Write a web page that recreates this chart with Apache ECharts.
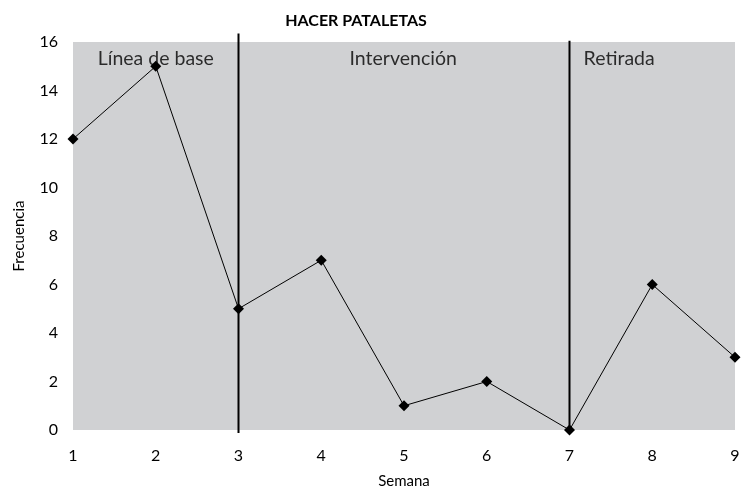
<!DOCTYPE html>
<html><head><meta charset="utf-8">
<script src="https://cdn.jsdelivr.net/npm/echarts@6/dist/echarts.min.js"></script>
<style>html,body{margin:0;padding:0;background:#fff}#c{width:741px;height:488px}</style>
</head><body><div id="c"></div>
<script>
const weeks = [1,2,3,4,5,6,7,8,9];
const frecuencia = [12,15,5,7,1,2,0,6,3];
const phaseBreaks = [3,7];
const phaseNames = ['Línea de base','Intervención','Retirada'];
const phaseLabelX = [2.0, 4.99, 7.6];
const phaseLabelY = 15.3;
const FONT = 'Lato';

const chart = echarts.init(document.getElementById('c'));
const breakSeries = phaseBreaks.map((b,i)=>({
  type:'line', data:[[b,-0.12],[b, i===0?16.35:16.05]], symbol:'none', clip:false, silent:true,
  lineStyle:{color:'#000',width:2}, z:3
}));
chart.setOption({
  animation:false,
  title:{text:'HACER PATALETAS',left:351,top:8,textAlign:'center',
    textStyle:{fontFamily:FONT,fontSize:16,fontWeight:'bold',color:'#000'}},
  grid:{left:73,right:6,top:42,bottom:58,show:true,backgroundColor:'#d0d1d3',borderWidth:0,
    outerBoundsMode:'none',containLabel:false},
  xAxis:{type:'value',min:1,max:9,interval:1,name:'Semana',nameLocation:'middle',nameGap:44,
    nameTextStyle:{fontFamily:FONT,fontSize:15,color:'#000'},
    axisLine:{show:false},axisTick:{show:false},splitLine:{show:false},
    axisLabel:{fontFamily:FONT,fontSize:16,color:'#000',margin:18}},
  yAxis:{type:'value',min:0,max:16,interval:2,name:'Frecuencia',nameLocation:'middle',nameGap:46,
    nameTextStyle:{fontFamily:FONT,fontSize:15,color:'#000'},
    axisLine:{show:false},axisTick:{show:false},splitLine:{show:false},
    axisLabel:{fontFamily:FONT,fontSize:16,color:'#000',margin:15}},
  series:[
    ...breakSeries,
    {type:'line',data:weeks.map((w,i)=>[w,frecuencia[i]]),symbol:'diamond',symbolSize:11,clip:false,
      itemStyle:{color:'#000'},lineStyle:{color:'#000',width:1},z:5},
    {type:'scatter',symbolSize:0,silent:true,z:6,
      data:phaseNames.map((n,i)=>({value:[phaseLabelX[i],phaseLabelY],name:n})),
      label:{show:true,position:'inside',formatter:p=>p.name,fontFamily:FONT,fontSize:19.5,color:'#000'}}
  ]
});
</script></body></html>
